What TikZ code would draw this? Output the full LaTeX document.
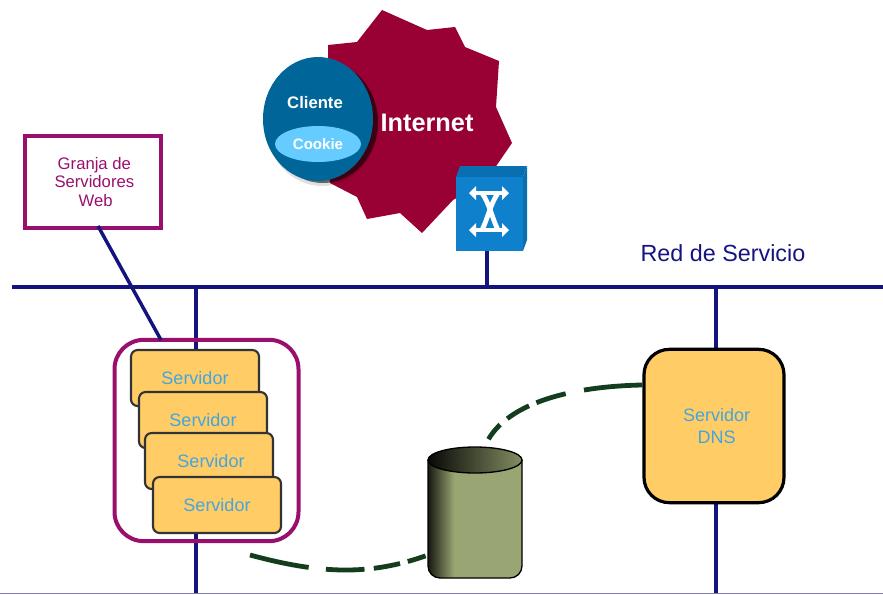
\documentclass[tikz,border=0pt]{standalone}
\usepackage{fontspec}
\setmainfont{Liberation Sans}
\usetikzlibrary{calc,shapes.geometric}
\definecolor{navyline}{HTML}{14147F}
\definecolor{plum}{HTML}{990F6E}
\definecolor{maroon}{HTML}{990033}
\definecolor{petrol}{HTML}{006699}
\definecolor{sky}{HTML}{66CCFF}
\definecolor{gold}{HTML}{FFCC66}
\definecolor{textblue}{HTML}{45A5DC}
\definecolor{switchblue}{HTML}{0F80CC}
\definecolor{switchtop}{HTML}{0A6FB0}
\definecolor{olivebody}{HTML}{99A673}
\definecolor{darkgreen}{HTML}{143D1E}
\pgfdeclarehorizontalshading{cylbody}{100bp}{color(0bp)=(black!85!olivebody); color(25bp)=(black!85!olivebody); color(39bp)=(olivebody); color(100bp)=(olivebody)}
\tikzset{
  bus/.style={draw=navyline,line width=2.6pt},
  serverbox/.style={draw=black!80,line width=1.6pt,fill=gold,rounded corners=5pt,minimum width=96pt,minimum height=42pt,inner sep=0pt,text=textblue,font=\fontsize{13.5}{16}\selectfont},
  flow/.style={draw=darkgreen,line width=3.6pt},
}
\begin{document}
\begin{tikzpicture}[x=0.75pt,y=-0.75pt]
\useasboundingbox (0,0) rectangle (883,594);
% Internet cloud
\fill[maroon] (382,10) -- (427,30) -- (455,27) -- (465,47) -- (499,61) -- (496,107) -- (512,143) -- (490,175) -- (470,190) -- (453,200) -- (422,233) -- (400,213) -- (367,219) -- (357,197) -- (330,183) -- (328,45) -- (357,42) -- cycle;
\node[text=white,font=\bfseries\fontsize{19}{21}\selectfont] (inet) at (427,123) {Internet};
% client
\fill[black,opacity=.12] (322,124) ellipse [x radius=56,y radius=62];
\fill[black,opacity=.55] (323,122) ellipse [x radius=55,y radius=61];
\node[ellipse,fill=petrol,minimum width=82.5pt,minimum height=93pt,inner sep=0pt] (cliente) at (318,119) {};
\node[text=white,font=\bfseries\fontsize{12.5}{14}\selectfont] (clientetxt) at (315,103) {Cliente};
\node[ellipse,fill=sky,minimum width=64.5pt,minimum height=27pt,inner sep=0pt,text=white,font=\bfseries\fontsize{11.3}{13}\selectfont] (cookie) at (318,144) {Cookie};
% bus lines
\coordinate (busL) at (12,287);
\coordinate (busR) at (883,287);
\coordinate (t1) at (196,287);
\coordinate (t2) at (487,287);
\coordinate (t3) at (716,287);
\coordinate (b1) at (196,594);
\coordinate (b3) at (716,594);
\coordinate (sw) at (487,251);
\draw[bus] (busL) -- (busR);
\draw[bus] (t1) -- (b1);
\draw[bus] (t3) -- (b3);
\draw[bus] (sw) -- (t2);
\draw[draw=navyline!55,line width=1pt] (0,593.5) -- (883,593.5);
% switch
\fill[switchtop] (456,177) -- (460,166) -- (527,166) -- (523,177) -- cycle;
\fill[switchtop] (523,177) -- (527,166) -- (527,240) -- (523,251) -- cycle;
\fill[switchblue] (456,177) rectangle (523,251);
\draw[white,line width=2.6pt] (476,193) -- (502,193);
\draw[white,line width=2.6pt] (476,230) -- (502,230);
\draw[white,line width=3.6pt] (482,193) .. controls (490,205) and (492,218) .. (498,230);
\draw[white,line width=3.6pt] (498,193) .. controls (490,205) and (488,218) .. (482,230);
\foreach \ax/\ay/\dx in {476/193/-1,502/193/1,476/230/-1,502/230/1}{
  \fill[white] (\ax+\dx*7,\ay) -- (\ax,\ay-7) -- (\ax,\ay+7) -- cycle;
}
\node[text=navyline,font=\fontsize{17.5}{20}\selectfont] (red) at (723,253) {Red de Servicio};
% Granja box
\node[draw=plum,line width=2.4pt,minimum width=102pt,minimum height=69pt,inner sep=0pt,align=center,text=plum,font=\fontsize{12.5}{13.8}\selectfont] (granja) at (93,182) {\hspace*{2pt}Granja de\\\hspace*{2pt}Servidores\\\hspace*{4pt}Web};
% frame
\node[draw=plum,line width=3pt,rounded corners=22pt,minimum width=138pt,minimum height=151pt,inner sep=0pt] (farm) at (206.5,440.5) {};
\coordinate (g1) at (98,226);
\coordinate (g2) at (161,340);
\draw[draw=navyline,line width=2.6pt] (g1) -- (g2);
% servers
\node[serverbox] (s1) at (195,378) {Servidor};
\node[serverbox] (s2) at (203,420) {Servidor};
\node[serverbox] (s3) at (209,461) {\hspace{3pt}Servidor};
\node[serverbox] (s4) at (217,505) {Servidor};
% DNS
\node[draw=black,line width=2.4pt,fill=gold,rounded corners=19pt,minimum width=105pt,minimum height=115pt,inner sep=0pt,align=center,text=textblue,font=\fontsize{13.5}{16}\selectfont] (dns) at (714,426) {\hspace*{4pt}Servidor\\\hspace*{4pt}DNS};
% cylinder
\path[shading=cylbody,draw=black,line width=1pt] (428,460) -- (428,566) arc[start angle=180,end angle=90,radius=12] -- (510,578) arc[start angle=90,end angle=0,radius=12] -- (522,460) -- cycle;
\draw[left color=black!95!olivebody,right color=olivebody!85!black,draw=black,line width=1pt] (475,460) ellipse [x radius=47,y radius=13];
\coordinate (cylL) at (428,555);
\coordinate (cylT) at (488,440);
\coordinate (farmB) at (250,555);
\coordinate (dnsL) at ($(dns.west)+(0,-41)$);
\draw[flow,dash pattern=on 44pt off 14pt on 23pt off 6pt on 19pt off 7pt on 14pt] (dnsL) .. controls (585,386) and (512,398) .. (cylT);
\draw[flow,dash pattern=on 45pt off 13pt on 29pt off 7pt on 20pt off 6pt on 14pt] (farmB) .. controls (320,574) and (370,576) .. (cylL);
\end{tikzpicture}
\end{document}
